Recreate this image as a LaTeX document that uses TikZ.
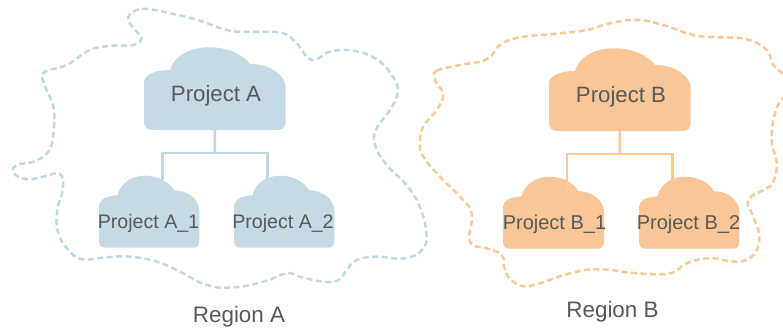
\documentclass[tikz,border=0pt]{standalone}
\usepackage{fontspec}
\usetikzlibrary{arrows.meta}
\setmainfont{Liberation Sans}
\definecolor{blueC}{HTML}{C5DAE5}
\definecolor{orangeC}{HTML}{F8C697}
\definecolor{blueL}{HTML}{C0D8E4}
\definecolor{orangeL}{HTML}{FBC998}
\definecolor{blueF}{HTML}{C9DDE7}
\definecolor{orangeF}{HTML}{F9CAA0}
\definecolor{txt}{HTML}{595959}
\tikzset{
  boundary/.style={line width=2.5pt,dash pattern=on 6pt off 3.5pt,line cap=butt},
  link/.style={line width=2.6pt},
  faintlink/.style={line width=1.6pt},
  bigtext/.style={text=txt,anchor=base,font=\fontsize{22.2}{24}\selectfont,inner sep=0pt},
  smalltext/.style={text=txt,anchor=base,font=\fontsize{19.6}{22}\selectfont,inner sep=0pt},
  smalltextb/.style={text=txt,anchor=base,font=\fontsize{20}{22}\selectfont,inner sep=0pt},
  regtext/.style={text=txt,anchor=base,font=\fontsize{22.4}{24}\selectfont,inner sep=0pt},
  cloudbox/.style={inner sep=0pt,outer sep=0pt},
}
% name, left, top, width, height, colour
\newcommand{\cloudnode}[6]{%
  \begin{scope}[shift={(#2,#3)},xscale=#4/425,yscale=#5/248]
    \fill[#6] (25,248) .. controls (8,248) and (0,238) .. (0,222)
      -- (0,105) .. controls (0,82) and (35,68) .. (78,68)
      .. controls (90,25) and (140,0) .. (195,0)
      .. controls (250,0) and (295,20) .. (318,50)
      .. controls (380,50) and (425,85) .. (425,120)
      -- (425,222) .. controls (425,238) and (417,248) .. (400,248) -- cycle;
  \end{scope}
  \node[cloudbox,minimum width=#4pt,minimum height=#5pt] (#1) at ({#2+#4/2},{#3+#5/2}) {};
}
\begin{document}
\begin{tikzpicture}[x=1pt,y=-1pt]
\useasboundingbox (0,0) rectangle (783,335);
\fill[white] (0,0) rectangle (783,335);
% Region A boundary
\draw[boundary,blueL] plot[smooth cycle,tension=0.75] coordinates {
(128.3,20) (133.3,11.7) (146.7,9) (173.3,14) (200,20.7) (230,30.7) (260,31.7) (283.3,33.3) (296.7,43.3) (311.7,60)
(330,51.7) (353.3,50.7) (376.7,59.3) (391.7,75) (397.7,91.7) (390,110) (376.7,128.3) (375,145) (386.7,165)
(405,183.3) (418.3,203.3) (426,230) (423.3,248.3) (405,258.3) (376.7,256.7) (356.7,260) (346.7,270) (338.3,280)
(323.3,281.7) (300,276.7) (286.7,273.3) (263.3,281.7) (233.3,287.3) (206.7,285) (180,271.7) (156.7,261.7)
(130,256.7) (106.7,257.3) (83.3,259.3) (70,251.7) (58.3,233.3) (57.3,210) (62.7,190) (60,174) (43.3,176.7)
(26.7,179.3) (14,173.3) (16.7,165) (33.3,161.7) (48.3,151.7) (53.3,133.3) (53.3,106.7) (43.3,81.7) (45,71.7)
(66.7,65) (90,50) (110,46) (133.3,45) (141.7,38.3) (136.7,31.7) };
% Region B boundary
\draw[boundary,orangeL] plot[smooth cycle,tension=0.75] coordinates {
(435,78.3) (436.7,70.7) (460,65) (486.7,59.3) (500,45) (520,37.3) (553.3,34) (586.7,30) (610,23.3) (636.7,20)
(663.3,25) (693.3,35) (720,37.3) (746.7,39.3) (766.7,50) (773.3,65) (788,78) (795,90) (783,98.3) (775,113.3) (771.7,140)
(776.7,163.3) (773.3,181.7) (766.7,188.3) (748.3,200) (753.3,216.7) (759.3,236.7) (753.3,255) (736.7,261.7)
(710,258.3) (686.7,263.3) (670,273.3) (636.7,273.3) (600,269.3) (570,273.3) (530,285.7) (513.3,281.7) (505,270)
(501.7,255) (486.7,248.3) (470,241.7) (471.7,213.3) (460,196.7) (440,176.7) (423.3,156.7) (420,143.3) (423.3,126.7)
(436.7,110) (443.3,95) (436.7,83.3) };
% Project A
\cloudnode{pa}{144}{47.3}{141.7}{82.7}{blueC}
\cloudnode{pa1}{99}{175.7}{100.3}{72}{blueC}
\cloudnode{pa2}{234}{175.7}{100.3}{72}{blueC}
\coordinate (jA) at (214.85,153);
\coordinate (tA1) at (162.3,180);
\coordinate (tA2) at (267.3,180);
\coordinate (eA1) at (162.3,192);
\coordinate (eA2) at (267.3,192);
\draw[faintlink,blueF] (tA1) -- (eA1);
\draw[faintlink,blueF] (tA2) -- (eA2);
\draw[link,blueL] (pa.south) -- (jA);
\draw[link,blueL] (tA1) |- (jA);
\draw[link,blueL] (tA2) |- (jA);
\node[bigtext] (lpa) at (216,101.5) {Project A};
\node[smalltext] (lpa1) at (148.5,228) {Project A\_1};
\node[smalltext] (lpa2) at (283,228) {Project A\_2};
\node[regtext] (lra) at (239,322) {Region A};
% Project B
\cloudnode{pb}{549}{48.3}{141.7}{82.7}{orangeC}
\cloudnode{pb1}{503}{176.7}{101}{72}{orangeC}
\cloudnode{pb2}{639}{176.7}{100.3}{72}{orangeC}
\coordinate (jB) at (619.85,154);
\coordinate (tB1) at (567,181);
\coordinate (tB2) at (672.5,181);
\coordinate (eB1) at (567,198);
\coordinate (eB2) at (672.5,198);
\draw[faintlink,orangeF,-{Straight Barb[length=6pt,width=11pt]}] (tB1) -- (eB1);
\draw[faintlink,orangeF,-{Straight Barb[length=6pt,width=11pt]}] (tB2) -- (eB2);
\draw[link,orangeL] (pb.south) -- (jB);
\draw[link,orangeL] (tB1) |- (jB);
\draw[link,orangeL] (tB2) |- (jB);
\node[bigtext] (lpb) at (621,102.5) {Project B};
\node[smalltextb] (lpb1) at (554.5,229) {Project B\_1};
\node[smalltextb] (lpb2) at (688.5,229) {Project B\_2};
\node[regtext] (lrb) at (612.5,317) {Region B};
\end{tikzpicture}
\end{document}
